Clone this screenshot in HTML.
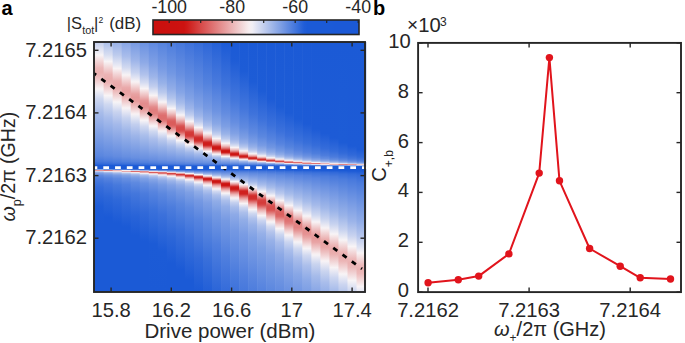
<!DOCTYPE html>
<html><head><meta charset="utf-8"><style>html,body{margin:0;padding:0;background:#fff;width:685px;height:343px;overflow:hidden}svg{display:block;font-family:"Liberation Sans",sans-serif}</style></head>
<body><svg width="685" height="343" viewBox="0 0 685 343" >
<defs><linearGradient id="g0" x1="0" y1="0" x2="0" y2="1"><stop offset="0.0000" stop-color="#c2ceee"/><stop offset="0.0440" stop-color="#eeedf5"/><stop offset="0.0520" stop-color="#f8f4f6"/><stop offset="0.1040" stop-color="#ecb7b8"/><stop offset="0.1200" stop-color="#ebb1b1"/><stop offset="0.1360" stop-color="#ecb7b8"/><stop offset="0.1880" stop-color="#f8f4f6"/><stop offset="0.2260" stop-color="#cfd8f0"/><stop offset="0.2820" stop-color="#a8bcea"/><stop offset="0.3720" stop-color="#7e9fe4"/><stop offset="0.4560" stop-color="#5a86df"/><stop offset="0.4780" stop-color="#4577dc"/><stop offset="0.4880" stop-color="#3169d9"/><stop offset="0.4940" stop-color="#1b5ad6"/><stop offset="0.5060" stop-color="#1b5ad6"/><stop offset="0.5080" stop-color="#2c66d8"/><stop offset="0.5100" stop-color="#86a4e5"/><stop offset="0.5120" stop-color="#f4dee0"/><stop offset="0.5140" stop-color="#e69797"/><stop offset="0.5160" stop-color="#f7f3f6"/><stop offset="0.5180" stop-color="#c3cfee"/><stop offset="0.5200" stop-color="#a5baea"/><stop offset="0.5220" stop-color="#91ace7"/><stop offset="0.5260" stop-color="#789be4"/><stop offset="0.5340" stop-color="#5f89e0"/><stop offset="0.5480" stop-color="#4a7bdd"/><stop offset="0.5800" stop-color="#356cda"/><stop offset="0.6580" stop-color="#1e5cd6"/><stop offset="0.7300" stop-color="#1b5ad6"/><stop offset="1.0000" stop-color="#1b5ad6"/></linearGradient>
<linearGradient id="g1" x1="0" y1="0" x2="0" y2="1"><stop offset="0.0000" stop-color="#abbfeb"/><stop offset="0.0520" stop-color="#d8def1"/><stop offset="0.0780" stop-color="#f7f4f6"/><stop offset="0.1300" stop-color="#ecb4b5"/><stop offset="0.1480" stop-color="#eaadae"/><stop offset="0.1640" stop-color="#ecb5b6"/><stop offset="0.2140" stop-color="#f8f4f6"/><stop offset="0.2500" stop-color="#cfd8f0"/><stop offset="0.3020" stop-color="#a9bdeb"/><stop offset="0.3800" stop-color="#82a2e5"/><stop offset="0.4540" stop-color="#608ae0"/><stop offset="0.4760" stop-color="#4c7cdd"/><stop offset="0.4880" stop-color="#346bda"/><stop offset="0.4940" stop-color="#1b5ad6"/><stop offset="0.5060" stop-color="#1b5ad6"/><stop offset="0.5080" stop-color="#2360d7"/><stop offset="0.5100" stop-color="#7095e2"/><stop offset="0.5120" stop-color="#e0e4f3"/><stop offset="0.5140" stop-color="#e28181"/><stop offset="0.5160" stop-color="#f0cacb"/><stop offset="0.5180" stop-color="#e3e5f3"/><stop offset="0.5200" stop-color="#bdcbed"/><stop offset="0.5220" stop-color="#a5baea"/><stop offset="0.5260" stop-color="#87a5e6"/><stop offset="0.5320" stop-color="#6f95e2"/><stop offset="0.5440" stop-color="#5784df"/><stop offset="0.5680" stop-color="#4275dc"/><stop offset="0.6220" stop-color="#2c66d8"/><stop offset="0.7020" stop-color="#1b5ad6"/><stop offset="1.0000" stop-color="#1b5ad6"/></linearGradient>
<linearGradient id="g2" x1="0" y1="0" x2="0" y2="1"><stop offset="0.0000" stop-color="#98b1e8"/><stop offset="0.0520" stop-color="#bdcbed"/><stop offset="0.0940" stop-color="#e9eaf4"/><stop offset="0.1060" stop-color="#f8f3f5"/><stop offset="0.1560" stop-color="#ebb0b1"/><stop offset="0.1720" stop-color="#e9a8a9"/><stop offset="0.1880" stop-color="#eaafaf"/><stop offset="0.2140" stop-color="#f1d1d2"/><stop offset="0.2400" stop-color="#f7f4f6"/><stop offset="0.2800" stop-color="#c9d3ef"/><stop offset="0.3300" stop-color="#a4b9ea"/><stop offset="0.4580" stop-color="#628be0"/><stop offset="0.4800" stop-color="#4a7bdd"/><stop offset="0.4880" stop-color="#376dda"/><stop offset="0.4940" stop-color="#1b5ad6"/><stop offset="0.5080" stop-color="#1b5ad6"/><stop offset="0.5100" stop-color="#5d88e0"/><stop offset="0.5120" stop-color="#b8c7ed"/><stop offset="0.5140" stop-color="#ecb6b7"/><stop offset="0.5160" stop-color="#e48e8e"/><stop offset="0.5180" stop-color="#f4e0e2"/><stop offset="0.5200" stop-color="#dbe0f2"/><stop offset="0.5220" stop-color="#bccaed"/><stop offset="0.5240" stop-color="#a7bcea"/><stop offset="0.5280" stop-color="#8da9e6"/><stop offset="0.5340" stop-color="#7699e3"/><stop offset="0.5460" stop-color="#5e89e0"/><stop offset="0.5720" stop-color="#4779dc"/><stop offset="0.6300" stop-color="#2f68d9"/><stop offset="0.7240" stop-color="#1b5ad6"/><stop offset="1.0000" stop-color="#1b5ad6"/></linearGradient>
<linearGradient id="g3" x1="0" y1="0" x2="0" y2="1"><stop offset="0.0000" stop-color="#87a5e6"/><stop offset="0.0580" stop-color="#a9bdeb"/><stop offset="0.1020" stop-color="#d1d9f0"/><stop offset="0.1320" stop-color="#f8f3f5"/><stop offset="0.1820" stop-color="#eaaaab"/><stop offset="0.1960" stop-color="#e8a1a2"/><stop offset="0.2120" stop-color="#e9a6a7"/><stop offset="0.2280" stop-color="#edbbbc"/><stop offset="0.2640" stop-color="#f8f3f5"/><stop offset="0.3040" stop-color="#c7d2ef"/><stop offset="0.3540" stop-color="#a0b7e9"/><stop offset="0.4580" stop-color="#678fe1"/><stop offset="0.4780" stop-color="#5180de"/><stop offset="0.4880" stop-color="#3a70da"/><stop offset="0.4940" stop-color="#1d5bd6"/><stop offset="0.5080" stop-color="#1b5ad6"/><stop offset="0.5100" stop-color="#4d7ddd"/><stop offset="0.5120" stop-color="#97b0e8"/><stop offset="0.5140" stop-color="#f7edef"/><stop offset="0.5160" stop-color="#e07978"/><stop offset="0.5180" stop-color="#e9a8a9"/><stop offset="0.5200" stop-color="#f6e8ea"/><stop offset="0.5220" stop-color="#dbe0f2"/><stop offset="0.5240" stop-color="#c0cdee"/><stop offset="0.5280" stop-color="#9eb6e9"/><stop offset="0.5340" stop-color="#83a3e5"/><stop offset="0.5460" stop-color="#6890e1"/><stop offset="0.5700" stop-color="#507fde"/><stop offset="0.6260" stop-color="#366dda"/><stop offset="0.7400" stop-color="#1b5ad6"/><stop offset="1.0000" stop-color="#1b5ad6"/></linearGradient>
<linearGradient id="g4" x1="0" y1="0" x2="0" y2="1"><stop offset="0.0000" stop-color="#779ae3"/><stop offset="0.0740" stop-color="#9eb5e9"/><stop offset="0.1220" stop-color="#c7d2ef"/><stop offset="0.1560" stop-color="#f4f1f5"/><stop offset="0.1600" stop-color="#f8f2f4"/><stop offset="0.2080" stop-color="#e8a2a2"/><stop offset="0.2220" stop-color="#e69898"/><stop offset="0.2380" stop-color="#e79d9d"/><stop offset="0.2540" stop-color="#ecb5b6"/><stop offset="0.2880" stop-color="#f8f2f4"/><stop offset="0.2960" stop-color="#ededf4"/><stop offset="0.3300" stop-color="#c2ceee"/><stop offset="0.3740" stop-color="#9eb5e9"/><stop offset="0.4620" stop-color="#6890e1"/><stop offset="0.4780" stop-color="#5582de"/><stop offset="0.4880" stop-color="#3d72db"/><stop offset="0.4920" stop-color="#2c66d8"/><stop offset="0.4940" stop-color="#1f5dd7"/><stop offset="0.4980" stop-color="#1b5ad6"/><stop offset="0.5080" stop-color="#1b5ad6"/><stop offset="0.5100" stop-color="#3f73db"/><stop offset="0.5120" stop-color="#7b9de4"/><stop offset="0.5140" stop-color="#ccd6f0"/><stop offset="0.5160" stop-color="#ecb5b6"/><stop offset="0.5180" stop-color="#de6d6d"/><stop offset="0.5200" stop-color="#ebb1b2"/><stop offset="0.5220" stop-color="#f5e7e9"/><stop offset="0.5240" stop-color="#e1e4f3"/><stop offset="0.5260" stop-color="#c7d2ef"/><stop offset="0.5300" stop-color="#a7bbea"/><stop offset="0.5360" stop-color="#8ca9e6"/><stop offset="0.5440" stop-color="#779ae3"/><stop offset="0.5620" stop-color="#5f8ae0"/><stop offset="0.6060" stop-color="#4477dc"/><stop offset="0.6980" stop-color="#2863d8"/><stop offset="0.7740" stop-color="#1b5ad6"/><stop offset="1.0000" stop-color="#1b5ad6"/></linearGradient>
<linearGradient id="g5" x1="0" y1="0" x2="0" y2="1"><stop offset="0.0000" stop-color="#6a91e1"/><stop offset="0.0820" stop-color="#8eaae7"/><stop offset="0.1300" stop-color="#b1c2ec"/><stop offset="0.1620" stop-color="#d4dbf1"/><stop offset="0.1860" stop-color="#f8f3f5"/><stop offset="0.2140" stop-color="#eebfc0"/><stop offset="0.2340" stop-color="#e69798"/><stop offset="0.2460" stop-color="#e48c8d"/><stop offset="0.2600" stop-color="#e48e8e"/><stop offset="0.2740" stop-color="#e8a3a3"/><stop offset="0.3080" stop-color="#f6ebed"/><stop offset="0.3140" stop-color="#f7f3f6"/><stop offset="0.3380" stop-color="#d0d8f0"/><stop offset="0.3720" stop-color="#abbfeb"/><stop offset="0.4660" stop-color="#6990e1"/><stop offset="0.4820" stop-color="#5180de"/><stop offset="0.4900" stop-color="#386fda"/><stop offset="0.4940" stop-color="#225fd7"/><stop offset="0.4960" stop-color="#1b5ad6"/><stop offset="0.5080" stop-color="#1b5ad6"/><stop offset="0.5100" stop-color="#346bda"/><stop offset="0.5120" stop-color="#648de1"/><stop offset="0.5140" stop-color="#a3b8ea"/><stop offset="0.5160" stop-color="#f8f3f5"/><stop offset="0.5180" stop-color="#e48b8b"/><stop offset="0.5200" stop-color="#dd6968"/><stop offset="0.5220" stop-color="#eaabac"/><stop offset="0.5240" stop-color="#f4dedf"/><stop offset="0.5260" stop-color="#edecf4"/><stop offset="0.5280" stop-color="#d3daf1"/><stop offset="0.5320" stop-color="#b2c3ec"/><stop offset="0.5360" stop-color="#9db5e9"/><stop offset="0.5460" stop-color="#80a1e5"/><stop offset="0.5660" stop-color="#658ee1"/><stop offset="0.6060" stop-color="#4c7cdd"/><stop offset="0.6840" stop-color="#3169d9"/><stop offset="0.7960" stop-color="#1b5ad6"/><stop offset="1.0000" stop-color="#1b5ad6"/></linearGradient>
<linearGradient id="g6" x1="0" y1="0" x2="0" y2="1"><stop offset="0.0000" stop-color="#5f89e0"/><stop offset="0.0880" stop-color="#80a0e5"/><stop offset="0.1400" stop-color="#9eb5e9"/><stop offset="0.1780" stop-color="#c2ceee"/><stop offset="0.2080" stop-color="#efeef5"/><stop offset="0.2140" stop-color="#f8f2f3"/><stop offset="0.2360" stop-color="#efc4c5"/><stop offset="0.2600" stop-color="#e38a8a"/><stop offset="0.2720" stop-color="#e17d7d"/><stop offset="0.2860" stop-color="#e18080"/><stop offset="0.2960" stop-color="#e59292"/><stop offset="0.3240" stop-color="#f3dbdd"/><stop offset="0.3360" stop-color="#f8f4f6"/><stop offset="0.3580" stop-color="#cfd8f0"/><stop offset="0.3880" stop-color="#abbeeb"/><stop offset="0.4420" stop-color="#81a1e5"/><stop offset="0.4720" stop-color="#668ee1"/><stop offset="0.4840" stop-color="#507fde"/><stop offset="0.4900" stop-color="#3c71db"/><stop offset="0.4960" stop-color="#1b5ad6"/><stop offset="0.5080" stop-color="#1b5ad6"/><stop offset="0.5100" stop-color="#2a65d8"/><stop offset="0.5120" stop-color="#5381de"/><stop offset="0.5140" stop-color="#82a2e5"/><stop offset="0.5160" stop-color="#c1cdee"/><stop offset="0.5180" stop-color="#f3d9da"/><stop offset="0.5200" stop-color="#df7676"/><stop offset="0.5220" stop-color="#db5d5c"/><stop offset="0.5240" stop-color="#e69797"/><stop offset="0.5260" stop-color="#f0cbcc"/><stop offset="0.5280" stop-color="#f7edef"/><stop offset="0.5300" stop-color="#e5e6f3"/><stop offset="0.5340" stop-color="#c0cdee"/><stop offset="0.5400" stop-color="#a2b8ea"/><stop offset="0.5500" stop-color="#86a5e6"/><stop offset="0.5680" stop-color="#6e94e2"/><stop offset="0.6000" stop-color="#5784df"/><stop offset="0.6700" stop-color="#3b71db"/><stop offset="0.8080" stop-color="#1c5bd6"/><stop offset="1.0000" stop-color="#1b5ad6"/></linearGradient>
<linearGradient id="g7" x1="0" y1="0" x2="0" y2="1"><stop offset="0.0000" stop-color="#5583de"/><stop offset="0.1080" stop-color="#799be4"/><stop offset="0.1640" stop-color="#97b1e8"/><stop offset="0.2020" stop-color="#bac9ed"/><stop offset="0.2300" stop-color="#e4e6f3"/><stop offset="0.2400" stop-color="#f8f4f6"/><stop offset="0.2600" stop-color="#efc6c7"/><stop offset="0.2860" stop-color="#e07b7b"/><stop offset="0.2940" stop-color="#de6e6e"/><stop offset="0.3080" stop-color="#de6e6d"/><stop offset="0.3160" stop-color="#e07a7a"/><stop offset="0.3440" stop-color="#f2d4d5"/><stop offset="0.3560" stop-color="#f8f2f4"/><stop offset="0.3640" stop-color="#e7e8f4"/><stop offset="0.3880" stop-color="#bccaed"/><stop offset="0.4200" stop-color="#99b2e8"/><stop offset="0.4700" stop-color="#6d93e2"/><stop offset="0.4840" stop-color="#5482de"/><stop offset="0.4900" stop-color="#3f73db"/><stop offset="0.4960" stop-color="#1b5ad6"/><stop offset="0.5080" stop-color="#1b5ad6"/><stop offset="0.5100" stop-color="#2360d7"/><stop offset="0.5140" stop-color="#6a91e1"/><stop offset="0.5160" stop-color="#96b0e8"/><stop offset="0.5180" stop-color="#d2daf1"/><stop offset="0.5200" stop-color="#f1cecf"/><stop offset="0.5220" stop-color="#df7272"/><stop offset="0.5240" stop-color="#d84e4d"/><stop offset="0.5260" stop-color="#df7474"/><stop offset="0.5280" stop-color="#eaabac"/><stop offset="0.5300" stop-color="#f1d3d4"/><stop offset="0.5320" stop-color="#f7eef0"/><stop offset="0.5340" stop-color="#e7e8f4"/><stop offset="0.5380" stop-color="#c6d1ef"/><stop offset="0.5440" stop-color="#a9bdeb"/><stop offset="0.5540" stop-color="#8eaae7"/><stop offset="0.5720" stop-color="#7599e3"/><stop offset="0.6080" stop-color="#5b87df"/><stop offset="0.6900" stop-color="#3c71db"/><stop offset="0.8360" stop-color="#1c5bd6"/><stop offset="1.0000" stop-color="#1b5ad6"/></linearGradient>
<linearGradient id="g8" x1="0" y1="0" x2="0" y2="1"><stop offset="0.0000" stop-color="#4d7ddd"/><stop offset="0.1240" stop-color="#7297e3"/><stop offset="0.1880" stop-color="#92ade7"/><stop offset="0.2240" stop-color="#b1c3ec"/><stop offset="0.2500" stop-color="#d6ddf1"/><stop offset="0.2660" stop-color="#f8f4f6"/><stop offset="0.2840" stop-color="#efc7c8"/><stop offset="0.3120" stop-color="#dc6666"/><stop offset="0.3200" stop-color="#da5b5a"/><stop offset="0.3320" stop-color="#db5d5c"/><stop offset="0.3400" stop-color="#df7171"/><stop offset="0.3600" stop-color="#eec3c4"/><stop offset="0.3760" stop-color="#f8f4f6"/><stop offset="0.3940" stop-color="#ccd5f0"/><stop offset="0.4180" stop-color="#a6bbea"/><stop offset="0.4740" stop-color="#6c92e2"/><stop offset="0.4860" stop-color="#5280de"/><stop offset="0.4920" stop-color="#376dda"/><stop offset="0.4960" stop-color="#1b5ad6"/><stop offset="0.5080" stop-color="#1b5ad6"/><stop offset="0.5100" stop-color="#1e5cd6"/><stop offset="0.5160" stop-color="#7a9ce4"/><stop offset="0.5180" stop-color="#a2b8ea"/><stop offset="0.5200" stop-color="#d9def1"/><stop offset="0.5220" stop-color="#f1d1d2"/><stop offset="0.5240" stop-color="#e17f7f"/><stop offset="0.5260" stop-color="#d64342"/><stop offset="0.5280" stop-color="#d74b4a"/><stop offset="0.5320" stop-color="#eaacad"/><stop offset="0.5340" stop-color="#f1cecf"/><stop offset="0.5360" stop-color="#f5e7e9"/><stop offset="0.5380" stop-color="#f1eff5"/><stop offset="0.5420" stop-color="#d1d9f0"/><stop offset="0.5480" stop-color="#b3c4ec"/><stop offset="0.5560" stop-color="#9bb3e9"/><stop offset="0.5720" stop-color="#81a1e5"/><stop offset="0.6020" stop-color="#6890e1"/><stop offset="0.6600" stop-color="#4d7ddd"/><stop offset="0.7820" stop-color="#2c66d8"/><stop offset="0.8840" stop-color="#1b5ad6"/><stop offset="1.0000" stop-color="#1b5ad6"/></linearGradient>
<linearGradient id="g9" x1="0" y1="0" x2="0" y2="1"><stop offset="0.0000" stop-color="#4678dc"/><stop offset="0.1320" stop-color="#6990e1"/><stop offset="0.2020" stop-color="#86a5e6"/><stop offset="0.2440" stop-color="#a6bbea"/><stop offset="0.2680" stop-color="#c5d1ef"/><stop offset="0.2880" stop-color="#eeedf5"/><stop offset="0.2920" stop-color="#f8f4f6"/><stop offset="0.3080" stop-color="#efc7c8"/><stop offset="0.3220" stop-color="#e59090"/><stop offset="0.3340" stop-color="#da5b5a"/><stop offset="0.3400" stop-color="#d74c4b"/><stop offset="0.3500" stop-color="#d74847"/><stop offset="0.3560" stop-color="#d84f4f"/><stop offset="0.3620" stop-color="#dd6766"/><stop offset="0.3780" stop-color="#ecb9ba"/><stop offset="0.3920" stop-color="#f7eef0"/><stop offset="0.3940" stop-color="#f8f4f6"/><stop offset="0.4080" stop-color="#ced7f0"/><stop offset="0.4280" stop-color="#a7bcea"/><stop offset="0.4760" stop-color="#6d93e2"/><stop offset="0.4860" stop-color="#5582de"/><stop offset="0.4900" stop-color="#4577dc"/><stop offset="0.4960" stop-color="#1b5ad6"/><stop offset="0.5100" stop-color="#1b5ad6"/><stop offset="0.5180" stop-color="#82a2e5"/><stop offset="0.5200" stop-color="#a5baea"/><stop offset="0.5220" stop-color="#d2daf1"/><stop offset="0.5240" stop-color="#f4e1e3"/><stop offset="0.5260" stop-color="#e8a0a0"/><stop offset="0.5280" stop-color="#d95352"/><stop offset="0.5300" stop-color="#d33635"/><stop offset="0.5320" stop-color="#d54140"/><stop offset="0.5360" stop-color="#e6999a"/><stop offset="0.5380" stop-color="#edbbbc"/><stop offset="0.5400" stop-color="#f2d5d6"/><stop offset="0.5420" stop-color="#f6e9ea"/><stop offset="0.5440" stop-color="#f2f0f5"/><stop offset="0.5500" stop-color="#cbd5ef"/><stop offset="0.5580" stop-color="#acbfeb"/><stop offset="0.5720" stop-color="#90abe7"/><stop offset="0.5940" stop-color="#789be3"/><stop offset="0.6460" stop-color="#5b87df"/><stop offset="0.7540" stop-color="#396fda"/><stop offset="0.9120" stop-color="#1b5ad6"/><stop offset="1.0000" stop-color="#1b5ad6"/></linearGradient>
<linearGradient id="g10" x1="0" y1="0" x2="0" y2="1"><stop offset="0.0000" stop-color="#3e72db"/><stop offset="0.1460" stop-color="#638ce0"/><stop offset="0.2260" stop-color="#82a2e5"/><stop offset="0.2660" stop-color="#9eb5e9"/><stop offset="0.2920" stop-color="#bfccee"/><stop offset="0.3120" stop-color="#e9eaf4"/><stop offset="0.3160" stop-color="#f5f2f6"/><stop offset="0.3180" stop-color="#f8f2f4"/><stop offset="0.3320" stop-color="#efc6c7"/><stop offset="0.3440" stop-color="#e59191"/><stop offset="0.3580" stop-color="#d64746"/><stop offset="0.3620" stop-color="#d43b39"/><stop offset="0.3700" stop-color="#d33635"/><stop offset="0.3740" stop-color="#d43937"/><stop offset="0.3780" stop-color="#d64443"/><stop offset="0.3840" stop-color="#dd6767"/><stop offset="0.3940" stop-color="#e9a8a9"/><stop offset="0.4060" stop-color="#f5e3e5"/><stop offset="0.4100" stop-color="#f8f2f4"/><stop offset="0.4260" stop-color="#c3cfee"/><stop offset="0.4420" stop-color="#a0b7e9"/><stop offset="0.4780" stop-color="#6d93e2"/><stop offset="0.4860" stop-color="#5885df"/><stop offset="0.4900" stop-color="#4779dc"/><stop offset="0.4940" stop-color="#2c66d8"/><stop offset="0.4960" stop-color="#1b5ad6"/><stop offset="0.5100" stop-color="#1b5ad6"/><stop offset="0.5200" stop-color="#84a3e5"/><stop offset="0.5220" stop-color="#a0b7e9"/><stop offset="0.5240" stop-color="#c3cfee"/><stop offset="0.5260" stop-color="#f0eff5"/><stop offset="0.5280" stop-color="#f0cbcc"/><stop offset="0.5300" stop-color="#e48f8f"/><stop offset="0.5320" stop-color="#d74b4a"/><stop offset="0.5340" stop-color="#d12b29"/><stop offset="0.5360" stop-color="#d12c2b"/><stop offset="0.5380" stop-color="#d64746"/><stop offset="0.5400" stop-color="#df7171"/><stop offset="0.5420" stop-color="#e69696"/><stop offset="0.5440" stop-color="#ebb3b4"/><stop offset="0.5480" stop-color="#f4dddf"/><stop offset="0.5500" stop-color="#f7edef"/><stop offset="0.5520" stop-color="#f1eff5"/><stop offset="0.5580" stop-color="#cfd7f0"/><stop offset="0.5660" stop-color="#b2c3ec"/><stop offset="0.5800" stop-color="#96b0e8"/><stop offset="0.6020" stop-color="#7e9fe4"/><stop offset="0.6620" stop-color="#5e89e0"/><stop offset="0.7820" stop-color="#3a70db"/><stop offset="0.9520" stop-color="#1b5ad6"/><stop offset="1.0000" stop-color="#1b5ad6"/></linearGradient>
<linearGradient id="g11" x1="0" y1="0" x2="0" y2="1"><stop offset="0.0000" stop-color="#366dda"/><stop offset="0.1800" stop-color="#638ce0"/><stop offset="0.2580" stop-color="#82a2e5"/><stop offset="0.2960" stop-color="#9fb6e9"/><stop offset="0.3180" stop-color="#becbee"/><stop offset="0.3340" stop-color="#e1e4f3"/><stop offset="0.3420" stop-color="#f8f3f5"/><stop offset="0.3540" stop-color="#f0cacb"/><stop offset="0.3640" stop-color="#e79a9b"/><stop offset="0.3740" stop-color="#da5b5a"/><stop offset="0.3800" stop-color="#d33635"/><stop offset="0.3840" stop-color="#d12a28"/><stop offset="0.3920" stop-color="#d02826"/><stop offset="0.3960" stop-color="#d2312f"/><stop offset="0.4000" stop-color="#d74a49"/><stop offset="0.4100" stop-color="#e79c9c"/><stop offset="0.4180" stop-color="#f1d0d1"/><stop offset="0.4240" stop-color="#f7eef0"/><stop offset="0.4260" stop-color="#f4f1f5"/><stop offset="0.4360" stop-color="#c9d3ef"/><stop offset="0.4480" stop-color="#a6bbea"/><stop offset="0.4660" stop-color="#85a4e5"/><stop offset="0.4820" stop-color="#688fe1"/><stop offset="0.4900" stop-color="#497add"/><stop offset="0.4940" stop-color="#2d66d9"/><stop offset="0.4960" stop-color="#1b5ad6"/><stop offset="0.5100" stop-color="#1b5ad6"/><stop offset="0.5220" stop-color="#83a2e5"/><stop offset="0.5260" stop-color="#b0c2ec"/><stop offset="0.5280" stop-color="#d0d8f0"/><stop offset="0.5300" stop-color="#f7f3f6"/><stop offset="0.5320" stop-color="#f0cdcf"/><stop offset="0.5340" stop-color="#e79e9e"/><stop offset="0.5380" stop-color="#d2312f"/><stop offset="0.5400" stop-color="#cf201e"/><stop offset="0.5420" stop-color="#cf2120"/><stop offset="0.5440" stop-color="#d33432"/><stop offset="0.5480" stop-color="#e07979"/><stop offset="0.5500" stop-color="#e69797"/><stop offset="0.5540" stop-color="#efc4c5"/><stop offset="0.5600" stop-color="#f7f0f2"/><stop offset="0.5620" stop-color="#f0eff5"/><stop offset="0.5700" stop-color="#cbd4ef"/><stop offset="0.5800" stop-color="#aec0eb"/><stop offset="0.5980" stop-color="#91ade7"/><stop offset="0.6340" stop-color="#7699e3"/><stop offset="0.7100" stop-color="#5784df"/><stop offset="0.8640" stop-color="#3169d9"/><stop offset="1.0000" stop-color="#1b5ad6"/></linearGradient>
<linearGradient id="g12" x1="0" y1="0" x2="0" y2="1"><stop offset="0.0000" stop-color="#2e67d9"/><stop offset="0.1660" stop-color="#5482de"/><stop offset="0.2660" stop-color="#779ae3"/><stop offset="0.3100" stop-color="#92ade7"/><stop offset="0.3340" stop-color="#aec0eb"/><stop offset="0.3500" stop-color="#cdd6f0"/><stop offset="0.3620" stop-color="#efeef5"/><stop offset="0.3640" stop-color="#f6f3f6"/><stop offset="0.3720" stop-color="#f3dadb"/><stop offset="0.3820" stop-color="#eaaaab"/><stop offset="0.3900" stop-color="#df7676"/><stop offset="0.3980" stop-color="#d33635"/><stop offset="0.4020" stop-color="#cf211f"/><stop offset="0.4080" stop-color="#ce1b19"/><stop offset="0.4120" stop-color="#cf1f1d"/><stop offset="0.4140" stop-color="#d02827"/><stop offset="0.4180" stop-color="#d74c4b"/><stop offset="0.4260" stop-color="#e79d9d"/><stop offset="0.4340" stop-color="#f3dbdc"/><stop offset="0.4380" stop-color="#f8f3f5"/><stop offset="0.4480" stop-color="#c3cfee"/><stop offset="0.4580" stop-color="#a0b6e9"/><stop offset="0.4840" stop-color="#658ee1"/><stop offset="0.4900" stop-color="#4b7bdd"/><stop offset="0.4940" stop-color="#2d66d9"/><stop offset="0.4960" stop-color="#1b5ad6"/><stop offset="0.5100" stop-color="#1b5ad6"/><stop offset="0.5180" stop-color="#5985df"/><stop offset="0.5260" stop-color="#8eaae7"/><stop offset="0.5300" stop-color="#b4c4ec"/><stop offset="0.5340" stop-color="#eaeaf4"/><stop offset="0.5360" stop-color="#f5e2e4"/><stop offset="0.5380" stop-color="#eec0c1"/><stop offset="0.5400" stop-color="#e69898"/><stop offset="0.5440" stop-color="#d43a39"/><stop offset="0.5460" stop-color="#ce1d1b"/><stop offset="0.5480" stop-color="#cd1816"/><stop offset="0.5500" stop-color="#ce1a18"/><stop offset="0.5520" stop-color="#d02726"/><stop offset="0.5580" stop-color="#e17e7e"/><stop offset="0.5620" stop-color="#eaaaab"/><stop offset="0.5660" stop-color="#f0cccd"/><stop offset="0.5720" stop-color="#f7f0f2"/><stop offset="0.5740" stop-color="#f2f0f5"/><stop offset="0.5820" stop-color="#d0d8f0"/><stop offset="0.5940" stop-color="#b0c2ec"/><stop offset="0.6120" stop-color="#95afe8"/><stop offset="0.6440" stop-color="#7d9ee4"/><stop offset="0.7120" stop-color="#618be0"/><stop offset="0.8640" stop-color="#3a70da"/><stop offset="1.0000" stop-color="#225fd7"/></linearGradient>
<linearGradient id="g13" x1="0" y1="0" x2="0" y2="1"><stop offset="0.0000" stop-color="#2561d7"/><stop offset="0.1660" stop-color="#497add"/><stop offset="0.2780" stop-color="#6e94e2"/><stop offset="0.3280" stop-color="#8aa8e6"/><stop offset="0.3540" stop-color="#a7bcea"/><stop offset="0.3700" stop-color="#c6d1ef"/><stop offset="0.3820" stop-color="#e9eaf4"/><stop offset="0.3860" stop-color="#f8f3f5"/><stop offset="0.3960" stop-color="#f0c9ca"/><stop offset="0.4040" stop-color="#e69899"/><stop offset="0.4100" stop-color="#dd6767"/><stop offset="0.4160" stop-color="#d22e2d"/><stop offset="0.4180" stop-color="#cf201e"/><stop offset="0.4200" stop-color="#cd1715"/><stop offset="0.4260" stop-color="#cc1413"/><stop offset="0.4280" stop-color="#cd1917"/><stop offset="0.4300" stop-color="#d02726"/><stop offset="0.4340" stop-color="#da5958"/><stop offset="0.4400" stop-color="#e8a3a3"/><stop offset="0.4440" stop-color="#f0cbcc"/><stop offset="0.4480" stop-color="#f6ecee"/><stop offset="0.4500" stop-color="#f1eff5"/><stop offset="0.4560" stop-color="#c7d2ef"/><stop offset="0.4620" stop-color="#a8bdea"/><stop offset="0.4740" stop-color="#83a3e5"/><stop offset="0.4860" stop-color="#608ae0"/><stop offset="0.4900" stop-color="#4c7cdd"/><stop offset="0.4960" stop-color="#1b5ad6"/><stop offset="0.5100" stop-color="#1b5ad6"/><stop offset="0.5180" stop-color="#5482de"/><stop offset="0.5300" stop-color="#92ade7"/><stop offset="0.5340" stop-color="#aec0eb"/><stop offset="0.5380" stop-color="#d4dbf1"/><stop offset="0.5400" stop-color="#ececf4"/><stop offset="0.5420" stop-color="#f5e7e9"/><stop offset="0.5460" stop-color="#ebb0b1"/><stop offset="0.5500" stop-color="#dd6969"/><stop offset="0.5520" stop-color="#d54241"/><stop offset="0.5540" stop-color="#cf2220"/><stop offset="0.5560" stop-color="#cc1513"/><stop offset="0.5600" stop-color="#cd1513"/><stop offset="0.5620" stop-color="#ce1e1c"/><stop offset="0.5640" stop-color="#d23230"/><stop offset="0.5700" stop-color="#e17c7c"/><stop offset="0.5740" stop-color="#e8a3a3"/><stop offset="0.5800" stop-color="#f1cecf"/><stop offset="0.5860" stop-color="#f7edef"/><stop offset="0.5880" stop-color="#f6f3f6"/><stop offset="0.5980" stop-color="#d0d8f0"/><stop offset="0.6120" stop-color="#afc1eb"/><stop offset="0.6360" stop-color="#91ade7"/><stop offset="0.6840" stop-color="#769ae3"/><stop offset="0.8100" stop-color="#507fde"/><stop offset="1.0000" stop-color="#2b65d8"/></linearGradient>
<linearGradient id="g14" x1="0" y1="0" x2="0" y2="1"><stop offset="0.0000" stop-color="#1b5ad6"/><stop offset="0.1720" stop-color="#3f73db"/><stop offset="0.2840" stop-color="#638ce0"/><stop offset="0.3380" stop-color="#7e9fe4"/><stop offset="0.3680" stop-color="#9ab3e8"/><stop offset="0.3860" stop-color="#bac9ed"/><stop offset="0.3980" stop-color="#dce0f2"/><stop offset="0.4040" stop-color="#f4f1f5"/><stop offset="0.4060" stop-color="#f7f0f2"/><stop offset="0.4140" stop-color="#f0c8ca"/><stop offset="0.4200" stop-color="#e8a0a0"/><stop offset="0.4260" stop-color="#dd6867"/><stop offset="0.4320" stop-color="#d02624"/><stop offset="0.4340" stop-color="#cd1816"/><stop offset="0.4380" stop-color="#cc1210"/><stop offset="0.4400" stop-color="#cc1311"/><stop offset="0.4420" stop-color="#ce1d1b"/><stop offset="0.4440" stop-color="#d33534"/><stop offset="0.4500" stop-color="#e69696"/><stop offset="0.4540" stop-color="#f0cacb"/><stop offset="0.4580" stop-color="#f8f3f5"/><stop offset="0.4640" stop-color="#c2ceee"/><stop offset="0.4700" stop-color="#9eb5e9"/><stop offset="0.4860" stop-color="#638ce0"/><stop offset="0.4920" stop-color="#3e72db"/><stop offset="0.4960" stop-color="#1b5ad6"/><stop offset="0.5100" stop-color="#1b5ad6"/><stop offset="0.5180" stop-color="#517fde"/><stop offset="0.5360" stop-color="#9ab3e8"/><stop offset="0.5420" stop-color="#beccee"/><stop offset="0.5480" stop-color="#f2f0f5"/><stop offset="0.5500" stop-color="#f5e7e9"/><stop offset="0.5540" stop-color="#edbdbe"/><stop offset="0.5580" stop-color="#e38a8a"/><stop offset="0.5640" stop-color="#d22f2e"/><stop offset="0.5660" stop-color="#ce1a19"/><stop offset="0.5680" stop-color="#cc1311"/><stop offset="0.5720" stop-color="#cc1311"/><stop offset="0.5740" stop-color="#cd1715"/><stop offset="0.5760" stop-color="#cf2322"/><stop offset="0.5860" stop-color="#e38888"/><stop offset="0.5920" stop-color="#ecb5b5"/><stop offset="0.6000" stop-color="#f4e0e1"/><stop offset="0.6040" stop-color="#f7f0f2"/><stop offset="0.6060" stop-color="#f4f1f5"/><stop offset="0.6180" stop-color="#ccd6f0"/><stop offset="0.6340" stop-color="#acbfeb"/><stop offset="0.6580" stop-color="#92ade7"/><stop offset="0.7120" stop-color="#779ae3"/><stop offset="0.8560" stop-color="#507fde"/><stop offset="1.0000" stop-color="#346bda"/></linearGradient>
<linearGradient id="g15" x1="0" y1="0" x2="0" y2="1"><stop offset="0.0000" stop-color="#1b5ad6"/><stop offset="0.0720" stop-color="#1e5cd6"/><stop offset="0.2300" stop-color="#4376dc"/><stop offset="0.3220" stop-color="#668ee1"/><stop offset="0.3660" stop-color="#81a1e5"/><stop offset="0.3900" stop-color="#9cb4e9"/><stop offset="0.4040" stop-color="#b8c7ed"/><stop offset="0.4140" stop-color="#d6ddf1"/><stop offset="0.4220" stop-color="#f8f2f4"/><stop offset="0.4300" stop-color="#efc4c5"/><stop offset="0.4340" stop-color="#e8a4a5"/><stop offset="0.4380" stop-color="#e07b7b"/><stop offset="0.4440" stop-color="#d12d2b"/><stop offset="0.4460" stop-color="#ce1b19"/><stop offset="0.4480" stop-color="#cd1513"/><stop offset="0.4500" stop-color="#cc1413"/><stop offset="0.4520" stop-color="#ce1a18"/><stop offset="0.4540" stop-color="#d33433"/><stop offset="0.4580" stop-color="#e28586"/><stop offset="0.4600" stop-color="#eaaaaa"/><stop offset="0.4640" stop-color="#f5e5e7"/><stop offset="0.4660" stop-color="#edecf4"/><stop offset="0.4700" stop-color="#c0cdee"/><stop offset="0.4740" stop-color="#a0b7e9"/><stop offset="0.4840" stop-color="#6f95e2"/><stop offset="0.4900" stop-color="#4e7ddd"/><stop offset="0.4960" stop-color="#1b5ad6"/><stop offset="0.5100" stop-color="#1b5ad6"/><stop offset="0.5160" stop-color="#4476dc"/><stop offset="0.5240" stop-color="#658ee1"/><stop offset="0.5420" stop-color="#9cb4e9"/><stop offset="0.5500" stop-color="#c1ceee"/><stop offset="0.5580" stop-color="#f7f3f6"/><stop offset="0.5620" stop-color="#f2d7d9"/><stop offset="0.5680" stop-color="#e8a0a1"/><stop offset="0.5740" stop-color="#da5b5a"/><stop offset="0.5780" stop-color="#d12c2a"/><stop offset="0.5800" stop-color="#ce1d1b"/><stop offset="0.5840" stop-color="#cd1614"/><stop offset="0.5880" stop-color="#cd1715"/><stop offset="0.5920" stop-color="#d02826"/><stop offset="0.6020" stop-color="#e17e7e"/><stop offset="0.6100" stop-color="#ecb4b5"/><stop offset="0.6200" stop-color="#f5e3e5"/><stop offset="0.6240" stop-color="#f7f1f3"/><stop offset="0.6280" stop-color="#ececf4"/><stop offset="0.6420" stop-color="#c6d1ef"/><stop offset="0.6600" stop-color="#a8bcea"/><stop offset="0.6900" stop-color="#8eaae7"/><stop offset="0.7540" stop-color="#7498e3"/><stop offset="0.9320" stop-color="#4a7bdd"/><stop offset="1.0000" stop-color="#3d72db"/></linearGradient>
<linearGradient id="g16" x1="0" y1="0" x2="0" y2="1"><stop offset="0.0000" stop-color="#1b5ad6"/><stop offset="0.1160" stop-color="#1d5cd6"/><stop offset="0.2660" stop-color="#4376dc"/><stop offset="0.3420" stop-color="#618be0"/><stop offset="0.3840" stop-color="#7e9fe4"/><stop offset="0.4040" stop-color="#95afe8"/><stop offset="0.4200" stop-color="#b7c7ed"/><stop offset="0.4300" stop-color="#dbe0f2"/><stop offset="0.4340" stop-color="#f0eef5"/><stop offset="0.4360" stop-color="#f7f1f3"/><stop offset="0.4420" stop-color="#f0c9ca"/><stop offset="0.4460" stop-color="#e8a4a4"/><stop offset="0.4500" stop-color="#de7171"/><stop offset="0.4540" stop-color="#d23230"/><stop offset="0.4560" stop-color="#ce1e1c"/><stop offset="0.4580" stop-color="#ce1a18"/><stop offset="0.4600" stop-color="#ce1d1b"/><stop offset="0.4620" stop-color="#d43938"/><stop offset="0.4660" stop-color="#e79b9c"/><stop offset="0.4680" stop-color="#efc4c6"/><stop offset="0.4700" stop-color="#f6e8e9"/><stop offset="0.4720" stop-color="#e4e6f3"/><stop offset="0.4740" stop-color="#c7d2ef"/><stop offset="0.4780" stop-color="#9db5e9"/><stop offset="0.4900" stop-color="#507fde"/><stop offset="0.4940" stop-color="#2964d8"/><stop offset="0.4960" stop-color="#1b5ad6"/><stop offset="0.5100" stop-color="#1b5ad6"/><stop offset="0.5160" stop-color="#4275dc"/><stop offset="0.5240" stop-color="#618be0"/><stop offset="0.5520" stop-color="#a6bbea"/><stop offset="0.5620" stop-color="#ced7f0"/><stop offset="0.5700" stop-color="#f8f2f4"/><stop offset="0.5780" stop-color="#eec0c1"/><stop offset="0.5860" stop-color="#e17d7d"/><stop offset="0.5940" stop-color="#d2312f"/><stop offset="0.5980" stop-color="#cf201e"/><stop offset="0.6060" stop-color="#cf211f"/><stop offset="0.6100" stop-color="#d22f2e"/><stop offset="0.6160" stop-color="#da5a59"/><stop offset="0.6240" stop-color="#e59393"/><stop offset="0.6340" stop-color="#efc7c8"/><stop offset="0.6460" stop-color="#f8f3f5"/><stop offset="0.6620" stop-color="#cdd6f0"/><stop offset="0.6820" stop-color="#acbfeb"/><stop offset="0.7100" stop-color="#93aee7"/><stop offset="0.7680" stop-color="#7a9ce4"/><stop offset="0.9360" stop-color="#5280de"/><stop offset="1.0000" stop-color="#4678dc"/></linearGradient>
<linearGradient id="g17" x1="0" y1="0" x2="0" y2="1"><stop offset="0.0000" stop-color="#1b5ad6"/><stop offset="0.1580" stop-color="#1d5cd6"/><stop offset="0.2880" stop-color="#3f73db"/><stop offset="0.3640" stop-color="#608ae0"/><stop offset="0.4000" stop-color="#7b9de4"/><stop offset="0.4200" stop-color="#96b0e8"/><stop offset="0.4320" stop-color="#b2c3ec"/><stop offset="0.4400" stop-color="#d1d9f0"/><stop offset="0.4460" stop-color="#f3f1f5"/><stop offset="0.4480" stop-color="#f6eced"/><stop offset="0.4520" stop-color="#f0cbcd"/><stop offset="0.4560" stop-color="#e79e9e"/><stop offset="0.4580" stop-color="#e18080"/><stop offset="0.4620" stop-color="#d33735"/><stop offset="0.4640" stop-color="#cf2422"/><stop offset="0.4660" stop-color="#cf2321"/><stop offset="0.4680" stop-color="#d43b39"/><stop offset="0.4720" stop-color="#eaadae"/><stop offset="0.4740" stop-color="#f3dcde"/><stop offset="0.4760" stop-color="#e8e9f4"/><stop offset="0.4780" stop-color="#c4d0ee"/><stop offset="0.4800" stop-color="#a8bcea"/><stop offset="0.4840" stop-color="#82a2e5"/><stop offset="0.4900" stop-color="#5482de"/><stop offset="0.4940" stop-color="#2a65d8"/><stop offset="0.4960" stop-color="#1b5ad6"/><stop offset="0.5100" stop-color="#1b5ad6"/><stop offset="0.5160" stop-color="#3f73db"/><stop offset="0.5240" stop-color="#5c87df"/><stop offset="0.5400" stop-color="#7d9ee4"/><stop offset="0.5600" stop-color="#a5baea"/><stop offset="0.5720" stop-color="#c9d3ef"/><stop offset="0.5820" stop-color="#f3f0f5"/><stop offset="0.5840" stop-color="#f7f0f2"/><stop offset="0.5940" stop-color="#edbcbd"/><stop offset="0.6020" stop-color="#e28686"/><stop offset="0.6100" stop-color="#d64746"/><stop offset="0.6140" stop-color="#d23231"/><stop offset="0.6180" stop-color="#d12b2a"/><stop offset="0.6260" stop-color="#d12e2d"/><stop offset="0.6300" stop-color="#d43a39"/><stop offset="0.6400" stop-color="#e07676"/><stop offset="0.6500" stop-color="#eaadae"/><stop offset="0.6620" stop-color="#f3ddde"/><stop offset="0.6700" stop-color="#f7f4f6"/><stop offset="0.6860" stop-color="#cfd8f0"/><stop offset="0.7060" stop-color="#b0c2ec"/><stop offset="0.7320" stop-color="#98b1e8"/><stop offset="0.7820" stop-color="#80a1e5"/><stop offset="0.9400" stop-color="#5985df"/><stop offset="1.0000" stop-color="#4d7ddd"/></linearGradient>
<linearGradient id="g18" x1="0" y1="0" x2="0" y2="1"><stop offset="0.0000" stop-color="#1b5ad6"/><stop offset="0.1960" stop-color="#1d5cd6"/><stop offset="0.3080" stop-color="#3c71db"/><stop offset="0.3780" stop-color="#5b87df"/><stop offset="0.4140" stop-color="#789be4"/><stop offset="0.4340" stop-color="#98b1e8"/><stop offset="0.4440" stop-color="#b5c5ec"/><stop offset="0.4520" stop-color="#dce1f2"/><stop offset="0.4560" stop-color="#f8f2f4"/><stop offset="0.4600" stop-color="#f0cdce"/><stop offset="0.4620" stop-color="#ebb4b5"/><stop offset="0.4640" stop-color="#e59494"/><stop offset="0.4680" stop-color="#d54140"/><stop offset="0.4700" stop-color="#d12e2c"/><stop offset="0.4720" stop-color="#d23231"/><stop offset="0.4740" stop-color="#dd6968"/><stop offset="0.4760" stop-color="#eaadad"/><stop offset="0.4780" stop-color="#f5e4e5"/><stop offset="0.4800" stop-color="#d9def1"/><stop offset="0.4820" stop-color="#b2c3ec"/><stop offset="0.4840" stop-color="#96afe8"/><stop offset="0.4920" stop-color="#4577dc"/><stop offset="0.4940" stop-color="#2c66d8"/><stop offset="0.4960" stop-color="#1b5ad6"/><stop offset="0.5100" stop-color="#1b5ad6"/><stop offset="0.5180" stop-color="#4577dc"/><stop offset="0.5280" stop-color="#618be0"/><stop offset="0.5720" stop-color="#a9bdeb"/><stop offset="0.5880" stop-color="#d3daf1"/><stop offset="0.5980" stop-color="#f7f3f6"/><stop offset="0.6060" stop-color="#f2d6d7"/><stop offset="0.6160" stop-color="#e8a4a5"/><stop offset="0.6300" stop-color="#d84f4e"/><stop offset="0.6340" stop-color="#d5403f"/><stop offset="0.6420" stop-color="#d43b3a"/><stop offset="0.6480" stop-color="#d53f3e"/><stop offset="0.6540" stop-color="#d95352"/><stop offset="0.6720" stop-color="#eaacac"/><stop offset="0.6840" stop-color="#f2d7d9"/><stop offset="0.6940" stop-color="#f8f3f5"/><stop offset="0.7140" stop-color="#ccd5f0"/><stop offset="0.7360" stop-color="#aec0eb"/><stop offset="0.7660" stop-color="#96b0e8"/><stop offset="0.8240" stop-color="#7d9fe4"/><stop offset="0.9860" stop-color="#5784df"/><stop offset="1.0000" stop-color="#5482de"/></linearGradient>
<linearGradient id="g19" x1="0" y1="0" x2="0" y2="1"><stop offset="0.0000" stop-color="#1b5ad6"/><stop offset="0.2280" stop-color="#1d5bd6"/><stop offset="0.3340" stop-color="#3c71db"/><stop offset="0.3900" stop-color="#5784df"/><stop offset="0.4220" stop-color="#7196e2"/><stop offset="0.4400" stop-color="#8daae7"/><stop offset="0.4500" stop-color="#a9bdeb"/><stop offset="0.4580" stop-color="#d0d8f0"/><stop offset="0.4620" stop-color="#f0eef5"/><stop offset="0.4640" stop-color="#f6e9eb"/><stop offset="0.4660" stop-color="#f1d2d3"/><stop offset="0.4680" stop-color="#ecb5b6"/><stop offset="0.4700" stop-color="#e48e8e"/><stop offset="0.4720" stop-color="#db5d5c"/><stop offset="0.4740" stop-color="#d43b3a"/><stop offset="0.4760" stop-color="#d53f3d"/><stop offset="0.4780" stop-color="#e18080"/><stop offset="0.4800" stop-color="#f0c9ca"/><stop offset="0.4820" stop-color="#e9e9f4"/><stop offset="0.4840" stop-color="#b8c7ed"/><stop offset="0.4860" stop-color="#94afe8"/><stop offset="0.4940" stop-color="#2f68d9"/><stop offset="0.4960" stop-color="#1b5ad6"/><stop offset="0.5100" stop-color="#1b5ad6"/><stop offset="0.5180" stop-color="#4174db"/><stop offset="0.5280" stop-color="#5c87df"/><stop offset="0.5520" stop-color="#7f9fe4"/><stop offset="0.5820" stop-color="#a7bcea"/><stop offset="0.6020" stop-color="#d1d9f0"/><stop offset="0.6140" stop-color="#f4f1f5"/><stop offset="0.6160" stop-color="#f8f1f3"/><stop offset="0.6280" stop-color="#efc8c9"/><stop offset="0.6420" stop-color="#e38787"/><stop offset="0.6500" stop-color="#db6060"/><stop offset="0.6560" stop-color="#d8504f"/><stop offset="0.6680" stop-color="#d84e4d"/><stop offset="0.6740" stop-color="#da5857"/><stop offset="0.6840" stop-color="#e17e7e"/><stop offset="0.6980" stop-color="#ecb7b8"/><stop offset="0.7140" stop-color="#f5e7e8"/><stop offset="0.7200" stop-color="#f8f4f6"/><stop offset="0.7380" stop-color="#d2d9f0"/><stop offset="0.7600" stop-color="#b4c4ec"/><stop offset="0.7940" stop-color="#98b1e8"/><stop offset="0.8540" stop-color="#7e9fe4"/><stop offset="1.0000" stop-color="#5b87df"/></linearGradient>
<linearGradient id="g20" x1="0" y1="0" x2="0" y2="1"><stop offset="0.0000" stop-color="#1b5ad6"/><stop offset="0.2580" stop-color="#1d5cd6"/><stop offset="0.3580" stop-color="#3c71db"/><stop offset="0.4080" stop-color="#5784df"/><stop offset="0.4360" stop-color="#7398e3"/><stop offset="0.4500" stop-color="#8fabe7"/><stop offset="0.4580" stop-color="#aabeeb"/><stop offset="0.4640" stop-color="#cdd6f0"/><stop offset="0.4680" stop-color="#f2f0f5"/><stop offset="0.4700" stop-color="#f5e2e4"/><stop offset="0.4720" stop-color="#efc4c5"/><stop offset="0.4740" stop-color="#e79b9b"/><stop offset="0.4760" stop-color="#dc6564"/><stop offset="0.4780" stop-color="#d64645"/><stop offset="0.4800" stop-color="#dc6261"/><stop offset="0.4820" stop-color="#ecb7b8"/><stop offset="0.4840" stop-color="#efeef5"/><stop offset="0.4860" stop-color="#b6c6ec"/><stop offset="0.4880" stop-color="#8daae7"/><stop offset="0.4940" stop-color="#346bda"/><stop offset="0.4960" stop-color="#1b5ad6"/><stop offset="0.5100" stop-color="#1b5ad6"/><stop offset="0.5140" stop-color="#2c66d8"/><stop offset="0.5220" stop-color="#497add"/><stop offset="0.5340" stop-color="#618be0"/><stop offset="0.5740" stop-color="#8eaae7"/><stop offset="0.6060" stop-color="#b9c8ed"/><stop offset="0.6260" stop-color="#e3e5f3"/><stop offset="0.6340" stop-color="#f8f3f5"/><stop offset="0.6500" stop-color="#eec3c4"/><stop offset="0.6720" stop-color="#de6f6f"/><stop offset="0.6780" stop-color="#dc6262"/><stop offset="0.6900" stop-color="#db605f"/><stop offset="0.6980" stop-color="#dd6969"/><stop offset="0.7140" stop-color="#e79d9d"/><stop offset="0.7300" stop-color="#f1cfd0"/><stop offset="0.7460" stop-color="#f8f4f6"/><stop offset="0.7700" stop-color="#ccd6f0"/><stop offset="0.8020" stop-color="#a9bdeb"/><stop offset="0.8500" stop-color="#8da9e6"/><stop offset="0.9420" stop-color="#6f95e2"/><stop offset="1.0000" stop-color="#628be0"/></linearGradient>
<linearGradient id="g21" x1="0" y1="0" x2="0" y2="1"><stop offset="0.0000" stop-color="#1b5ad6"/><stop offset="0.2840" stop-color="#1d5cd6"/><stop offset="0.3760" stop-color="#3b70db"/><stop offset="0.4200" stop-color="#5583de"/><stop offset="0.4440" stop-color="#7095e2"/><stop offset="0.4560" stop-color="#8aa7e6"/><stop offset="0.4640" stop-color="#a9bdeb"/><stop offset="0.4680" stop-color="#c2cfee"/><stop offset="0.4720" stop-color="#eaeaf4"/><stop offset="0.4740" stop-color="#f5e6e8"/><stop offset="0.4760" stop-color="#efc3c5"/><stop offset="0.4780" stop-color="#e59191"/><stop offset="0.4800" stop-color="#da5857"/><stop offset="0.4820" stop-color="#db5d5c"/><stop offset="0.4840" stop-color="#ecb6b7"/><stop offset="0.4860" stop-color="#e8e9f4"/><stop offset="0.4880" stop-color="#abbeeb"/><stop offset="0.4900" stop-color="#7fa0e4"/><stop offset="0.4960" stop-color="#1b5ad6"/><stop offset="0.5100" stop-color="#1b5ad6"/><stop offset="0.5120" stop-color="#1e5cd6"/><stop offset="0.5180" stop-color="#396fda"/><stop offset="0.5280" stop-color="#5280de"/><stop offset="0.5520" stop-color="#7196e2"/><stop offset="0.6080" stop-color="#a7bcea"/><stop offset="0.6340" stop-color="#ced7f0"/><stop offset="0.6540" stop-color="#f8f3f5"/><stop offset="0.6740" stop-color="#eebebf"/><stop offset="0.6940" stop-color="#e18080"/><stop offset="0.7020" stop-color="#df7373"/><stop offset="0.7160" stop-color="#df7272"/><stop offset="0.7260" stop-color="#e28181"/><stop offset="0.7560" stop-color="#f1d2d3"/><stop offset="0.7720" stop-color="#f8f3f5"/><stop offset="0.8000" stop-color="#cbd5f0"/><stop offset="0.8340" stop-color="#a9bdeb"/><stop offset="0.8880" stop-color="#8ba8e6"/><stop offset="0.9940" stop-color="#6b92e2"/><stop offset="1.0000" stop-color="#6a91e1"/></linearGradient>
<linearGradient id="g22" x1="0" y1="0" x2="0" y2="1"><stop offset="0.0000" stop-color="#1b5ad6"/><stop offset="0.3080" stop-color="#1d5cd6"/><stop offset="0.3940" stop-color="#3b71db"/><stop offset="0.4320" stop-color="#5582de"/><stop offset="0.4500" stop-color="#6c92e2"/><stop offset="0.4600" stop-color="#82a2e5"/><stop offset="0.4680" stop-color="#a3b9ea"/><stop offset="0.4720" stop-color="#bfccee"/><stop offset="0.4740" stop-color="#d3daf1"/><stop offset="0.4760" stop-color="#eeedf5"/><stop offset="0.4780" stop-color="#f3dcde"/><stop offset="0.4800" stop-color="#eaadae"/><stop offset="0.4820" stop-color="#dd6b6b"/><stop offset="0.4840" stop-color="#dc6666"/><stop offset="0.4860" stop-color="#efc6c7"/><stop offset="0.4880" stop-color="#d4dbf1"/><stop offset="0.4900" stop-color="#96b0e8"/><stop offset="0.4940" stop-color="#4175dc"/><stop offset="0.4960" stop-color="#1b5ad6"/><stop offset="0.5120" stop-color="#1c5ad6"/><stop offset="0.5200" stop-color="#3b71db"/><stop offset="0.5340" stop-color="#5783df"/><stop offset="0.5700" stop-color="#7a9ce4"/><stop offset="0.6220" stop-color="#a7bcea"/><stop offset="0.6520" stop-color="#ced7f0"/><stop offset="0.6740" stop-color="#f7f3f6"/><stop offset="0.6920" stop-color="#f1cecf"/><stop offset="0.7180" stop-color="#e48c8d"/><stop offset="0.7260" stop-color="#e28383"/><stop offset="0.7420" stop-color="#e28383"/><stop offset="0.7540" stop-color="#e59595"/><stop offset="0.7860" stop-color="#f3ddde"/><stop offset="0.8000" stop-color="#f6f3f6"/><stop offset="0.8260" stop-color="#cfd8f0"/><stop offset="0.8640" stop-color="#abbeeb"/><stop offset="0.9280" stop-color="#89a7e6"/><stop offset="1.0000" stop-color="#7297e3"/></linearGradient>
<linearGradient id="g23" x1="0" y1="0" x2="0" y2="1"><stop offset="0.0000" stop-color="#1b5ad6"/><stop offset="0.3280" stop-color="#1d5bd6"/><stop offset="0.4040" stop-color="#386fda"/><stop offset="0.4400" stop-color="#5280de"/><stop offset="0.4560" stop-color="#6990e1"/><stop offset="0.4640" stop-color="#7d9ee4"/><stop offset="0.4700" stop-color="#95afe8"/><stop offset="0.4740" stop-color="#b0c2ec"/><stop offset="0.4760" stop-color="#c3cfee"/><stop offset="0.4780" stop-color="#dde1f2"/><stop offset="0.4800" stop-color="#f6ebed"/><stop offset="0.4820" stop-color="#edbbbc"/><stop offset="0.4840" stop-color="#df7474"/><stop offset="0.4860" stop-color="#e17d7d"/><stop offset="0.4880" stop-color="#f5e5e6"/><stop offset="0.4900" stop-color="#b4c5ec"/><stop offset="0.4920" stop-color="#799ce4"/><stop offset="0.4960" stop-color="#1e5cd6"/><stop offset="0.5080" stop-color="#1b5ad6"/><stop offset="0.5120" stop-color="#1b5ad6"/><stop offset="0.5200" stop-color="#386eda"/><stop offset="0.5340" stop-color="#5280de"/><stop offset="0.5680" stop-color="#7196e2"/><stop offset="0.6380" stop-color="#a7bcea"/><stop offset="0.6740" stop-color="#d2d9f0"/><stop offset="0.6960" stop-color="#f7f3f6"/><stop offset="0.7140" stop-color="#f2d3d4"/><stop offset="0.7400" stop-color="#e79c9c"/><stop offset="0.7520" stop-color="#e48f8f"/><stop offset="0.7680" stop-color="#e59192"/><stop offset="0.7820" stop-color="#e9a5a5"/><stop offset="0.8180" stop-color="#f6e9eb"/><stop offset="0.8260" stop-color="#f7f3f6"/><stop offset="0.8540" stop-color="#d0d8f0"/><stop offset="0.8940" stop-color="#acbfeb"/><stop offset="0.9520" stop-color="#8daae7"/><stop offset="1.0000" stop-color="#7c9ee4"/></linearGradient>
<linearGradient id="g24" x1="0" y1="0" x2="0" y2="1"><stop offset="0.0000" stop-color="#1b5ad6"/><stop offset="0.3480" stop-color="#1d5bd6"/><stop offset="0.4140" stop-color="#366dda"/><stop offset="0.4460" stop-color="#4e7edd"/><stop offset="0.4620" stop-color="#6890e1"/><stop offset="0.4700" stop-color="#81a1e5"/><stop offset="0.4740" stop-color="#96b0e8"/><stop offset="0.4780" stop-color="#b8c8ed"/><stop offset="0.4800" stop-color="#d3daf1"/><stop offset="0.4820" stop-color="#f8f2f4"/><stop offset="0.4840" stop-color="#edbdbe"/><stop offset="0.4860" stop-color="#df7272"/><stop offset="0.4880" stop-color="#e9a9aa"/><stop offset="0.4900" stop-color="#dbe0f2"/><stop offset="0.4920" stop-color="#8eaae7"/><stop offset="0.4940" stop-color="#5582de"/><stop offset="0.4960" stop-color="#2460d7"/><stop offset="0.4980" stop-color="#1b5ad6"/><stop offset="0.5120" stop-color="#1b5ad6"/><stop offset="0.5240" stop-color="#3d72db"/><stop offset="0.5440" stop-color="#5884df"/><stop offset="0.6520" stop-color="#a5baea"/><stop offset="0.6920" stop-color="#ced7f0"/><stop offset="0.7200" stop-color="#f8f3f5"/><stop offset="0.7520" stop-color="#edbabb"/><stop offset="0.7700" stop-color="#e79f9f"/><stop offset="0.7860" stop-color="#e69a9a"/><stop offset="0.8020" stop-color="#e9a5a6"/><stop offset="0.8480" stop-color="#f7f0f2"/><stop offset="0.8540" stop-color="#f4f1f5"/><stop offset="0.8880" stop-color="#cad4ef"/><stop offset="0.9360" stop-color="#a6bbea"/><stop offset="1.0000" stop-color="#88a6e6"/></linearGradient>
<linearGradient id="g25" x1="0" y1="0" x2="0" y2="1"><stop offset="0.0000" stop-color="#1b5ad6"/><stop offset="0.3660" stop-color="#1d5bd6"/><stop offset="0.4260" stop-color="#356cda"/><stop offset="0.4540" stop-color="#4e7ddd"/><stop offset="0.4660" stop-color="#648de1"/><stop offset="0.4740" stop-color="#82a2e5"/><stop offset="0.4780" stop-color="#9db5e9"/><stop offset="0.4800" stop-color="#b2c3ec"/><stop offset="0.4820" stop-color="#cfd7f0"/><stop offset="0.4840" stop-color="#f8f2f4"/><stop offset="0.4860" stop-color="#ebb1b2"/><stop offset="0.4880" stop-color="#e07676"/><stop offset="0.4900" stop-color="#f5e4e6"/><stop offset="0.4920" stop-color="#a7bbea"/><stop offset="0.4940" stop-color="#628be0"/><stop offset="0.4960" stop-color="#2a64d8"/><stop offset="0.4980" stop-color="#1b5ad6"/><stop offset="0.5140" stop-color="#1d5bd6"/><stop offset="0.5220" stop-color="#356cda"/><stop offset="0.5380" stop-color="#4d7ddd"/><stop offset="0.5780" stop-color="#6a91e1"/><stop offset="0.6640" stop-color="#a0b7e9"/><stop offset="0.7080" stop-color="#c8d3ef"/><stop offset="0.7440" stop-color="#f8f3f5"/><stop offset="0.7920" stop-color="#eaaaaa"/><stop offset="0.8060" stop-color="#e8a2a3"/><stop offset="0.8220" stop-color="#e9a8a8"/><stop offset="0.8420" stop-color="#eec2c3"/><stop offset="0.8760" stop-color="#f8f3f5"/><stop offset="0.9160" stop-color="#cbd5ef"/><stop offset="0.9620" stop-color="#a9bdeb"/><stop offset="1.0000" stop-color="#95afe8"/></linearGradient>
<linearGradient id="g26" x1="0" y1="0" x2="0" y2="1"><stop offset="0.0000" stop-color="#1b5ad6"/><stop offset="0.3840" stop-color="#1d5bd6"/><stop offset="0.4360" stop-color="#346cda"/><stop offset="0.4600" stop-color="#4c7cdd"/><stop offset="0.4700" stop-color="#628ce0"/><stop offset="0.4760" stop-color="#7b9de4"/><stop offset="0.4800" stop-color="#98b1e8"/><stop offset="0.4820" stop-color="#afc1eb"/><stop offset="0.4840" stop-color="#d0d8f0"/><stop offset="0.4860" stop-color="#f6e7e9"/><stop offset="0.4880" stop-color="#e59293"/><stop offset="0.4900" stop-color="#ebb1b2"/><stop offset="0.4920" stop-color="#c5d0ef"/><stop offset="0.4940" stop-color="#7196e2"/><stop offset="0.4960" stop-color="#3169d9"/><stop offset="0.4980" stop-color="#1b5ad6"/><stop offset="0.5140" stop-color="#1b5ad6"/><stop offset="0.5220" stop-color="#3169d9"/><stop offset="0.5380" stop-color="#4879dc"/><stop offset="0.5820" stop-color="#668ee1"/><stop offset="0.6760" stop-color="#9bb4e9"/><stop offset="0.7280" stop-color="#c7d2ef"/><stop offset="0.7620" stop-color="#f0eef5"/><stop offset="0.7680" stop-color="#f8f4f6"/><stop offset="0.8160" stop-color="#ebb1b2"/><stop offset="0.8320" stop-color="#e9a9a9"/><stop offset="0.8480" stop-color="#eaafaf"/><stop offset="0.8760" stop-color="#f1d2d3"/><stop offset="0.9020" stop-color="#f8f3f5"/><stop offset="0.9420" stop-color="#cdd6f0"/><stop offset="0.9900" stop-color="#aabeeb"/><stop offset="1.0000" stop-color="#a5baea"/></linearGradient>
<linearGradient id="g27" x1="0" y1="0" x2="0" y2="1"><stop offset="0.0000" stop-color="#1b5ad6"/><stop offset="0.4020" stop-color="#1d5cd6"/><stop offset="0.4440" stop-color="#326ad9"/><stop offset="0.4620" stop-color="#4678dc"/><stop offset="0.4720" stop-color="#5c87df"/><stop offset="0.4760" stop-color="#6b92e2"/><stop offset="0.4800" stop-color="#83a3e5"/><stop offset="0.4820" stop-color="#96b0e8"/><stop offset="0.4840" stop-color="#b1c2ec"/><stop offset="0.4860" stop-color="#dadff2"/><stop offset="0.4880" stop-color="#f0cdcf"/><stop offset="0.4900" stop-color="#e28181"/><stop offset="0.4920" stop-color="#e8e9f4"/><stop offset="0.4940" stop-color="#81a1e5"/><stop offset="0.4960" stop-color="#386eda"/><stop offset="0.4980" stop-color="#1b5ad6"/><stop offset="0.5140" stop-color="#1b5ad6"/><stop offset="0.5280" stop-color="#376eda"/><stop offset="0.5500" stop-color="#4d7ddd"/><stop offset="0.6940" stop-color="#9ab3e8"/><stop offset="0.7520" stop-color="#c8d3ef"/><stop offset="0.7920" stop-color="#f7f4f6"/><stop offset="0.8420" stop-color="#ecb4b5"/><stop offset="0.8600" stop-color="#eaadae"/><stop offset="0.8760" stop-color="#ecb5b6"/><stop offset="0.9280" stop-color="#f8f4f6"/><stop offset="0.9700" stop-color="#ccd5f0"/><stop offset="1.0000" stop-color="#b6c6ec"/></linearGradient>
<linearGradient id="g28" x1="0" y1="0" x2="0" y2="1"><stop offset="0.0000" stop-color="#1b5ad6"/><stop offset="0.4160" stop-color="#1d5bd6"/><stop offset="0.4520" stop-color="#3169d9"/><stop offset="0.4680" stop-color="#4678dc"/><stop offset="0.4760" stop-color="#5d88e0"/><stop offset="0.4800" stop-color="#7296e3"/><stop offset="0.4820" stop-color="#81a1e5"/><stop offset="0.4840" stop-color="#97b1e8"/><stop offset="0.4860" stop-color="#b9c8ed"/><stop offset="0.4880" stop-color="#f2f0f5"/><stop offset="0.4900" stop-color="#e69697"/><stop offset="0.4920" stop-color="#f3dcde"/><stop offset="0.4940" stop-color="#95afe8"/><stop offset="0.4960" stop-color="#4174db"/><stop offset="0.4980" stop-color="#1b5ad6"/><stop offset="0.5160" stop-color="#1c5ad6"/><stop offset="0.5280" stop-color="#336bda"/><stop offset="0.5520" stop-color="#497add"/><stop offset="0.7180" stop-color="#9cb4e9"/><stop offset="0.7760" stop-color="#c9d3ef"/><stop offset="0.8180" stop-color="#f8f4f6"/><stop offset="0.8680" stop-color="#ecb7b8"/><stop offset="0.8840" stop-color="#ebb0b1"/><stop offset="0.9020" stop-color="#ecb9ba"/><stop offset="0.9540" stop-color="#f7f4f6"/><stop offset="0.9960" stop-color="#cdd6f0"/><stop offset="1.0000" stop-color="#cad4ef"/></linearGradient>
<linearGradient id="g29" x1="0" y1="0" x2="0" y2="1"><stop offset="0.0000" stop-color="#1b5ad6"/><stop offset="0.4300" stop-color="#1d5bd6"/><stop offset="0.4600" stop-color="#316ad9"/><stop offset="0.4720" stop-color="#4577dc"/><stop offset="0.4780" stop-color="#5985df"/><stop offset="0.4820" stop-color="#7095e2"/><stop offset="0.4840" stop-color="#82a2e5"/><stop offset="0.4860" stop-color="#9eb5e9"/><stop offset="0.4880" stop-color="#ccd5f0"/><stop offset="0.4900" stop-color="#f0cdce"/><stop offset="0.4920" stop-color="#eaadae"/><stop offset="0.4940" stop-color="#abbeeb"/><stop offset="0.4960" stop-color="#4a7bdd"/><stop offset="0.4980" stop-color="#1b5ad6"/><stop offset="0.5160" stop-color="#1b5ad6"/><stop offset="0.5320" stop-color="#346bda"/><stop offset="0.5640" stop-color="#4a7bdd"/><stop offset="0.7160" stop-color="#8fabe7"/><stop offset="0.7760" stop-color="#b5c5ec"/><stop offset="0.8240" stop-color="#e1e4f3"/><stop offset="0.8440" stop-color="#f8f3f5"/><stop offset="0.8920" stop-color="#edbabb"/><stop offset="0.9100" stop-color="#ebb3b3"/><stop offset="0.9260" stop-color="#edb9ba"/><stop offset="0.9780" stop-color="#f8f3f5"/><stop offset="1.0000" stop-color="#e1e4f3"/></linearGradient><linearGradient id="cb" x1="0" y1="0" x2="1" y2="0"><stop offset="0.0000" stop-color="#ca100e"/><stop offset="0.0167" stop-color="#cb100e"/><stop offset="0.0333" stop-color="#cb100e"/><stop offset="0.0500" stop-color="#cb100e"/><stop offset="0.0667" stop-color="#cb110f"/><stop offset="0.0833" stop-color="#cb110f"/><stop offset="0.1000" stop-color="#cb110f"/><stop offset="0.1167" stop-color="#cc110f"/><stop offset="0.1333" stop-color="#cc1210"/><stop offset="0.1500" stop-color="#cc1210"/><stop offset="0.1667" stop-color="#ce1a18"/><stop offset="0.1833" stop-color="#d02624"/><stop offset="0.2000" stop-color="#d23230"/><stop offset="0.2167" stop-color="#d53e3d"/><stop offset="0.2333" stop-color="#d74a49"/><stop offset="0.2500" stop-color="#d95555"/><stop offset="0.2667" stop-color="#db6161"/><stop offset="0.2833" stop-color="#de6d6d"/><stop offset="0.3000" stop-color="#e07979"/><stop offset="0.3167" stop-color="#e28585"/><stop offset="0.3333" stop-color="#e59191"/><stop offset="0.3500" stop-color="#e79c9d"/><stop offset="0.3667" stop-color="#e9a8a9"/><stop offset="0.3833" stop-color="#ecb4b5"/><stop offset="0.4000" stop-color="#eec0c1"/><stop offset="0.4167" stop-color="#f0cccd"/><stop offset="0.4333" stop-color="#f2d8d9"/><stop offset="0.4500" stop-color="#f5e4e5"/><stop offset="0.4667" stop-color="#f7eff1"/><stop offset="0.4833" stop-color="#f0eef5"/><stop offset="0.5000" stop-color="#e2e4f3"/><stop offset="0.5167" stop-color="#d4dbf1"/><stop offset="0.5333" stop-color="#c6d1ef"/><stop offset="0.5500" stop-color="#b8c7ed"/><stop offset="0.5667" stop-color="#aabeeb"/><stop offset="0.5833" stop-color="#9cb4e9"/><stop offset="0.6000" stop-color="#8eaae7"/><stop offset="0.6167" stop-color="#81a1e5"/><stop offset="0.6333" stop-color="#7397e3"/><stop offset="0.6500" stop-color="#658de1"/><stop offset="0.6667" stop-color="#5784df"/><stop offset="0.6833" stop-color="#497add"/><stop offset="0.7000" stop-color="#3b71db"/><stop offset="0.7167" stop-color="#2d67d9"/><stop offset="0.7333" stop-color="#205dd7"/><stop offset="0.7500" stop-color="#1b5ad6"/><stop offset="0.7667" stop-color="#1b5ad6"/><stop offset="0.7833" stop-color="#1b5ad6"/><stop offset="0.8000" stop-color="#1b5ad6"/><stop offset="0.8167" stop-color="#1b5ad6"/><stop offset="0.8333" stop-color="#1b5ad6"/><stop offset="0.8500" stop-color="#1b5ad6"/><stop offset="0.8667" stop-color="#1b5ad6"/><stop offset="0.8833" stop-color="#1b59d6"/><stop offset="0.9000" stop-color="#1b59d6"/><stop offset="0.9167" stop-color="#1b59d6"/><stop offset="0.9333" stop-color="#1b59d6"/><stop offset="0.9500" stop-color="#1b59d6"/><stop offset="0.9667" stop-color="#1b59d6"/><stop offset="0.9833" stop-color="#1b59d6"/><stop offset="1.0000" stop-color="#1b59d6"/></linearGradient></defs>
<rect width="685" height="343" fill="#fff"/>
<g><rect x="94.00" y="42.0" width="10.20" height="250.0" fill="url(#g0)"/>
<rect x="103.60" y="42.0" width="9.63" height="250.0" fill="url(#g1)"/>
<rect x="112.64" y="42.0" width="9.63" height="250.0" fill="url(#g2)"/>
<rect x="121.67" y="42.0" width="9.63" height="250.0" fill="url(#g3)"/>
<rect x="130.70" y="42.0" width="9.63" height="250.0" fill="url(#g4)"/>
<rect x="139.74" y="42.0" width="9.63" height="250.0" fill="url(#g5)"/>
<rect x="148.77" y="42.0" width="9.63" height="250.0" fill="url(#g6)"/>
<rect x="157.80" y="42.0" width="9.63" height="250.0" fill="url(#g7)"/>
<rect x="166.84" y="42.0" width="9.63" height="250.0" fill="url(#g8)"/>
<rect x="175.87" y="42.0" width="9.63" height="250.0" fill="url(#g9)"/>
<rect x="184.90" y="42.0" width="9.63" height="250.0" fill="url(#g10)"/>
<rect x="193.94" y="42.0" width="9.63" height="250.0" fill="url(#g11)"/>
<rect x="202.97" y="42.0" width="9.63" height="250.0" fill="url(#g12)"/>
<rect x="212.00" y="42.0" width="9.63" height="250.0" fill="url(#g13)"/>
<rect x="221.04" y="42.0" width="9.63" height="250.0" fill="url(#g14)"/>
<rect x="230.07" y="42.0" width="9.63" height="250.0" fill="url(#g15)"/>
<rect x="239.10" y="42.0" width="9.63" height="250.0" fill="url(#g16)"/>
<rect x="248.14" y="42.0" width="9.63" height="250.0" fill="url(#g17)"/>
<rect x="257.17" y="42.0" width="9.63" height="250.0" fill="url(#g18)"/>
<rect x="266.20" y="42.0" width="9.63" height="250.0" fill="url(#g19)"/>
<rect x="275.24" y="42.0" width="9.63" height="250.0" fill="url(#g20)"/>
<rect x="284.27" y="42.0" width="9.63" height="250.0" fill="url(#g21)"/>
<rect x="293.30" y="42.0" width="9.63" height="250.0" fill="url(#g22)"/>
<rect x="302.34" y="42.0" width="9.63" height="250.0" fill="url(#g23)"/>
<rect x="311.37" y="42.0" width="9.63" height="250.0" fill="url(#g24)"/>
<rect x="320.40" y="42.0" width="9.63" height="250.0" fill="url(#g25)"/>
<rect x="329.44" y="42.0" width="9.63" height="250.0" fill="url(#g26)"/>
<rect x="338.47" y="42.0" width="9.63" height="250.0" fill="url(#g27)"/>
<rect x="347.50" y="42.0" width="9.63" height="250.0" fill="url(#g28)"/>
<rect x="356.54" y="42.0" width="9.63" height="250.0" fill="url(#g29)"/></g>
<clipPath id="ca"><rect x="94.0" y="42.0" width="271.0" height="250.0"/></clipPath>
<line clip-path="url(#ca)" x1="92.03" y1="72.06" x2="362.00" y2="268.79" stroke="#000" stroke-width="2.8" stroke-dasharray="5.0 6.48"/>
<line x1="91.54" y1="167.6" x2="368" y2="167.6" stroke="#fff" stroke-width="2.6" stroke-dasharray="5.75 6.01"/>
<g stroke="#262626" stroke-width="1.4"><line x1="111.1" y1="292.0" x2="111.1" y2="287.5"/><line x1="111.1" y1="42.0" x2="111.1" y2="46.5"/><line x1="171.3" y1="292.0" x2="171.3" y2="287.5"/><line x1="171.3" y1="42.0" x2="171.3" y2="46.5"/><line x1="231.6" y1="292.0" x2="231.6" y2="287.5"/><line x1="231.6" y1="42.0" x2="231.6" y2="46.5"/><line x1="291.8" y1="292.0" x2="291.8" y2="287.5"/><line x1="291.8" y1="42.0" x2="291.8" y2="46.5"/><line x1="352.1" y1="292.0" x2="352.1" y2="287.5"/><line x1="352.1" y1="42.0" x2="352.1" y2="46.5"/><line x1="94.0" y1="50.3" x2="98.5" y2="50.3"/><line x1="365.0" y1="50.3" x2="360.5" y2="50.3"/><line x1="94.0" y1="112.9" x2="98.5" y2="112.9"/><line x1="365.0" y1="112.9" x2="360.5" y2="112.9"/><line x1="94.0" y1="175.6" x2="98.5" y2="175.6"/><line x1="365.0" y1="175.6" x2="360.5" y2="175.6"/><line x1="94.0" y1="238.2" x2="98.5" y2="238.2"/><line x1="365.0" y1="238.2" x2="360.5" y2="238.2"/></g>
<rect x="94.0" y="42.0" width="271.0" height="250.0" fill="none" stroke="#262626" stroke-width="1.9"/>
<g font-size="20.2" fill="#262626"><text x="111.1" y="316.8" text-anchor="middle">15.8</text><text x="171.3" y="316.8" text-anchor="middle">16.2</text><text x="231.6" y="316.8" text-anchor="middle">16.6</text><text x="291.8" y="316.8" text-anchor="middle">17</text><text x="352.1" y="316.8" text-anchor="middle">17.4</text><text x="87.0" y="57.0" text-anchor="end">7.2165</text><text x="87.0" y="119.2" text-anchor="end">7.2164</text><text x="87.0" y="181.8" text-anchor="end">7.2163</text><text x="87.0" y="244.4" text-anchor="end">7.2162</text></g>
<text x="229.9" y="338.4" font-size="20.5" text-anchor="middle" fill="#262626">Drive power (dBm)</text>
<text transform="translate(15,166.6) rotate(-90)" font-size="19.6" text-anchor="middle" fill="#262626"><tspan font-style="italic">ω</tspan><tspan font-size="12.5" dy="6">p</tspan><tspan dy="-6">/2π (GHz)</tspan></text>
<rect x="153.0" y="20.0" width="206.0" height="14.5" fill="url(#cb)" stroke="#262626" stroke-width="1.6"/><g stroke="#262626" stroke-width="1.2"><line x1="169.2" y1="20.0" x2="169.2" y2="23.0"/><line x1="200.7" y1="20.0" x2="200.7" y2="23.0"/><line x1="232.2" y1="20.0" x2="232.2" y2="23.0"/><line x1="263.7" y1="20.0" x2="263.7" y2="23.0"/><line x1="295.2" y1="20.0" x2="295.2" y2="23.0"/><line x1="326.7" y1="20.0" x2="326.7" y2="23.0"/><line x1="358.2" y1="20.0" x2="358.2" y2="23.0"/></g><g font-size="17.8" fill="#262626"><text x="169.2" y="13.4" text-anchor="middle">-100</text><text x="232.2" y="13.4" text-anchor="middle">-80</text><text x="295.2" y="13.4" text-anchor="middle">-60</text><text x="358.2" y="13.4" text-anchor="middle">-40</text></g><g fill="#262626" font-size="16.5"><text x="66.7" y="28.6">|S</text><text x="82.3" y="33.6" font-size="10.8">tot</text><text x="94.0" y="28.6">|</text><text x="98.5" y="23.4" font-size="8.6">2</text><text x="109.2" y="28.6" font-size="16.9">(dB)</text></g>
<g stroke="#262626" stroke-width="1.4"><line x1="428.0" y1="292.1" x2="428.0" y2="287.6"/><line x1="428.0" y1="42.9" x2="428.0" y2="47.4"/><line x1="529.1" y1="292.1" x2="529.1" y2="287.6"/><line x1="529.1" y1="42.9" x2="529.1" y2="47.4"/><line x1="630.2" y1="292.1" x2="630.2" y2="287.6"/><line x1="630.2" y1="42.9" x2="630.2" y2="47.4"/><line x1="418.1" y1="292.1" x2="422.6" y2="292.1"/><line x1="681.0" y1="292.1" x2="676.5" y2="292.1"/><line x1="418.1" y1="242.3" x2="422.6" y2="242.3"/><line x1="681.0" y1="242.3" x2="676.5" y2="242.3"/><line x1="418.1" y1="192.4" x2="422.6" y2="192.4"/><line x1="681.0" y1="192.4" x2="676.5" y2="192.4"/><line x1="418.1" y1="142.6" x2="422.6" y2="142.6"/><line x1="681.0" y1="142.6" x2="676.5" y2="142.6"/><line x1="418.1" y1="92.7" x2="422.6" y2="92.7"/><line x1="681.0" y1="92.7" x2="676.5" y2="92.7"/><line x1="418.1" y1="42.9" x2="422.6" y2="42.9"/><line x1="681.0" y1="42.9" x2="676.5" y2="42.9"/></g>
<polyline fill="none" stroke="#e1141c" stroke-width="2" stroke-linejoin="round" points="428.1,282.7 458.3,279.8 478.7,276.1 508.9,253.9 539.2,173.1 549.4,57.6 559.5,180.8 589.6,248.5 620.2,266.2 640.2,277.8 670.5,279.0"/>
<g fill="#e1141c"><circle cx="428.1" cy="282.7" r="3.7"/><circle cx="458.3" cy="279.8" r="3.7"/><circle cx="478.7" cy="276.1" r="3.7"/><circle cx="508.9" cy="253.9" r="3.7"/><circle cx="539.2" cy="173.1" r="3.7"/><circle cx="549.4" cy="57.6" r="3.7"/><circle cx="559.5" cy="180.8" r="3.7"/><circle cx="589.6" cy="248.5" r="3.7"/><circle cx="620.2" cy="266.2" r="3.7"/><circle cx="640.2" cy="277.8" r="3.7"/><circle cx="670.5" cy="279.0" r="3.7"/></g>
<rect x="418.1" y="42.9" width="262.9" height="249.2" fill="none" stroke="#262626" stroke-width="1.9"/>
<g font-size="20.2" fill="#262626"><text x="428.0" y="316.6" text-anchor="middle">7.2162</text><text x="529.1" y="316.6" text-anchor="middle">7.2163</text><text x="630.2" y="316.6" text-anchor="middle">7.2164</text><text x="408.9" y="296.6" text-anchor="end">0</text><text x="408.9" y="246.9" text-anchor="end">2</text><text x="408.9" y="197.2" text-anchor="end">4</text><text x="408.9" y="147.5" text-anchor="end">6</text><text x="408.9" y="97.8" text-anchor="end">8</text><text x="410.8" y="48.1" text-anchor="end">10</text></g>
<g fill="#262626"><text x="407.0" y="31.0" font-size="19">×</text><text x="418.3" y="32.4" font-size="20.2">10</text><text x="440.0" y="25.8" font-size="12">3</text></g>
<text x="550" y="335.5" font-size="20" text-anchor="middle" fill="#262626"><tspan font-style="italic">ω</tspan><tspan font-size="12" dy="6.5">+</tspan><tspan dy="-6.5">/2π (GHz)</tspan></text>
<text transform="translate(385.6,166.0) rotate(-90)" font-size="20.2" text-anchor="middle" fill="#262626">C<tspan font-size="12" dy="7.6">+,b</tspan></text>
<text x="1.5" y="14.8" font-size="20" font-weight="bold" fill="#000">a</text>
<text x="373" y="14.8" font-size="20" font-weight="bold" fill="#000">b</text>
</svg></body></html>
